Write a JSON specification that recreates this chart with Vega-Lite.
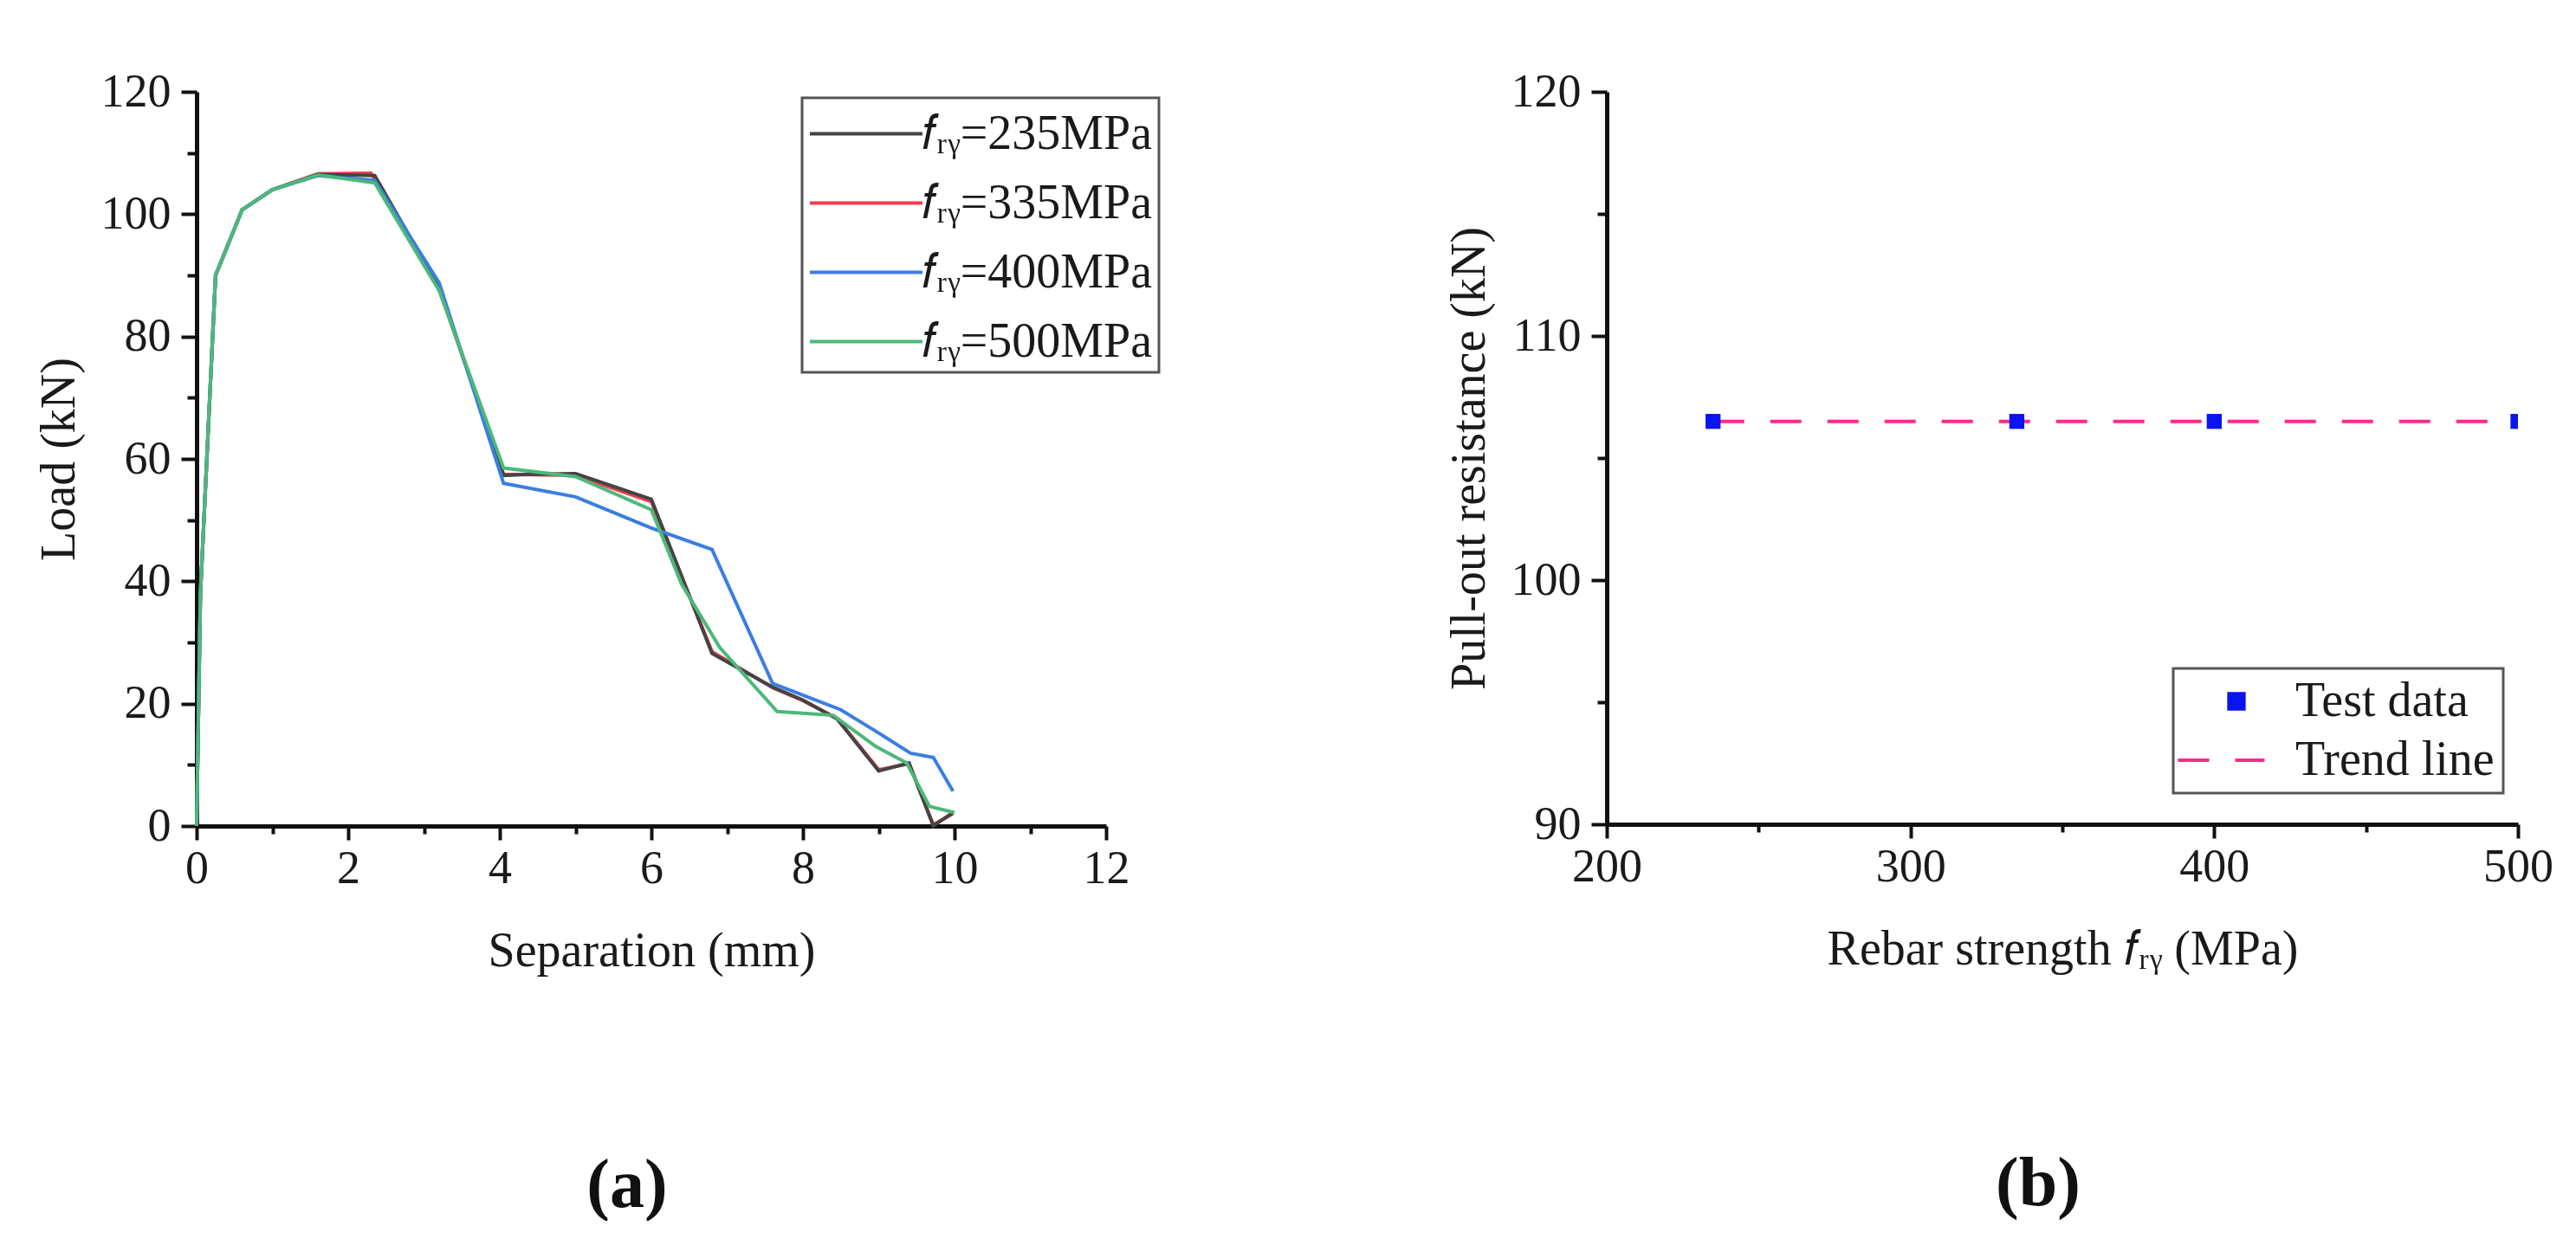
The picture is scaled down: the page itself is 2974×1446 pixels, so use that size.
{
  "$schema": "https://vega.github.io/schema/vega-lite/v6.json",
  "background": "white",
  "padding": {"left": 40, "top": 79, "right": 0, "bottom": 0},
  "resolve": {
    "scale": {"color": "independent", "strokeDash": "independent", "shape": "independent", "size": "independent"},
    "legend": {"color": "independent", "strokeDash": "independent", "shape": "independent", "size": "independent"}
  },
  "config": {
    "view": {"stroke": null},
    "font": "Liberation Serif",
    "concat": {"spacing": 328},
    "axis": {
      "grid": false,
      "domainColor": "#111111",
      "domainWidth": 5,
      "tickColor": "#111111",
      "tickWidth": 4,
      "labelFont": "Liberation Serif",
      "labelFontSize": 54,
      "labelColor": "#1a1a1a",
      "labelOverlap": false,
      "labelFlush": false,
      "titleFont": "Liberation Serif",
      "titleFontSize": 56,
      "titleFontWeight": "normal",
      "titleColor": "#1a1a1a"
    },
    "axisX": {"labelPadding": 6, "titlePadding": 41},
    "axisY": {"labelPadding": 12, "titlePadding": 19},
    "legend": {
      "orient": "none",
      "strokeColor": "#555555",
      "strokeWidth": 3,
      "fillColor": "white",
      "labelFont": "Liberation Serif",
      "labelFontSize": 56,
      "labelColor": "#1a1a1a",
      "labelLimit": 0,
      "title": null
    },
    "title": {
      "font": "Liberation Serif",
      "fontSize": 80,
      "fontWeight": "bold",
      "color": "#111111",
      "orient": "bottom",
      "anchor": "middle",
      "frame": "group",
      "offset": 205,
      "dx": -28
    }
  },
  "hconcat": [
    {
      "title": "(a)",
      "width": 1050,
      "height": 848,
      "data": {
        "values": [
          {"fry": "335MPa", "sep": 0, "load": 0},
          {"fry": "335MPa", "sep": 0.05, "load": 38},
          {"fry": "335MPa", "sep": 0.25, "load": 90},
          {"fry": "335MPa", "sep": 0.6, "load": 100.7},
          {"fry": "335MPa", "sep": 1.0, "load": 104},
          {"fry": "335MPa", "sep": 1.6, "load": 106.6},
          {"fry": "335MPa", "sep": 2.3, "load": 106.7},
          {"fry": "335MPa", "sep": 3.2, "load": 87.8},
          {"fry": "335MPa", "sep": 4.05, "load": 57.5},
          {"fry": "335MPa", "sep": 5.0, "load": 57.3},
          {"fry": "335MPa", "sep": 6.0, "load": 53},
          {"fry": "335MPa", "sep": 6.8, "load": 28.5},
          {"fry": "335MPa", "sep": 7.6, "load": 22.6},
          {"fry": "335MPa", "sep": 8.0, "load": 20.5},
          {"fry": "335MPa", "sep": 8.45, "load": 17.6},
          {"fry": "335MPa", "sep": 9.0, "load": 9.2},
          {"fry": "335MPa", "sep": 9.4, "load": 10.2},
          {"fry": "335MPa", "sep": 9.72, "load": 0.2},
          {"fry": "335MPa", "sep": 9.98, "load": 2.0},

          {"fry": "235MPa", "sep": 0, "load": 0},
          {"fry": "235MPa", "sep": 0.05, "load": 38},
          {"fry": "235MPa", "sep": 0.25, "load": 90},
          {"fry": "235MPa", "sep": 0.6, "load": 100.7},
          {"fry": "235MPa", "sep": 1.0, "load": 104},
          {"fry": "235MPa", "sep": 1.6, "load": 106.5},
          {"fry": "235MPa", "sep": 2.35, "load": 106.3},
          {"fry": "235MPa", "sep": 3.2, "load": 88},
          {"fry": "235MPa", "sep": 4.05, "load": 57.3},
          {"fry": "235MPa", "sep": 4.4, "load": 57.5},
          {"fry": "235MPa", "sep": 5.0, "load": 57.6},
          {"fry": "235MPa", "sep": 6.0, "load": 53.4},
          {"fry": "235MPa", "sep": 6.8, "load": 28.2},
          {"fry": "235MPa", "sep": 7.6, "load": 22.7},
          {"fry": "235MPa", "sep": 8.0, "load": 20.6},
          {"fry": "235MPa", "sep": 8.45, "load": 17.5},
          {"fry": "235MPa", "sep": 9.0, "load": 9.0},
          {"fry": "235MPa", "sep": 9.4, "load": 10.3},
          {"fry": "235MPa", "sep": 9.72, "load": 0},
          {"fry": "235MPa", "sep": 9.98, "load": 2.2},

          {"fry": "400MPa", "sep": 0, "load": 0},
          {"fry": "400MPa", "sep": 0.05, "load": 38},
          {"fry": "400MPa", "sep": 0.25, "load": 90},
          {"fry": "400MPa", "sep": 0.6, "load": 100.7},
          {"fry": "400MPa", "sep": 1.0, "load": 104},
          {"fry": "400MPa", "sep": 1.6, "load": 106.3},
          {"fry": "400MPa", "sep": 2.35, "load": 105.5},
          {"fry": "400MPa", "sep": 3.2, "load": 88.8},
          {"fry": "400MPa", "sep": 4.05, "load": 56.0},
          {"fry": "400MPa", "sep": 5.0, "load": 53.8},
          {"fry": "400MPa", "sep": 6.0, "load": 48.7},
          {"fry": "400MPa", "sep": 6.8, "load": 45.2},
          {"fry": "400MPa", "sep": 7.6, "load": 23.3},
          {"fry": "400MPa", "sep": 8.5, "load": 19.0},
          {"fry": "400MPa", "sep": 9.0, "load": 15.2},
          {"fry": "400MPa", "sep": 9.42, "load": 11.9},
          {"fry": "400MPa", "sep": 9.72, "load": 11.2},
          {"fry": "400MPa", "sep": 9.98, "load": 5.7},

          {"fry": "500MPa", "sep": 0, "load": 0},
          {"fry": "500MPa", "sep": 0.05, "load": 38},
          {"fry": "500MPa", "sep": 0.25, "load": 90},
          {"fry": "500MPa", "sep": 0.6, "load": 100.7},
          {"fry": "500MPa", "sep": 1.0, "load": 104},
          {"fry": "500MPa", "sep": 1.6, "load": 106.4},
          {"fry": "500MPa", "sep": 2.35, "load": 105.1},
          {"fry": "500MPa", "sep": 3.2, "load": 87.5},
          {"fry": "500MPa", "sep": 4.05, "load": 58.5},
          {"fry": "500MPa", "sep": 5.0, "load": 57.1},
          {"fry": "500MPa", "sep": 6.0, "load": 51.7},
          {"fry": "500MPa", "sep": 6.4, "load": 39.5},
          {"fry": "500MPa", "sep": 6.9, "load": 29.2},
          {"fry": "500MPa", "sep": 7.66, "load": 18.7},
          {"fry": "500MPa", "sep": 8.4, "load": 18.1},
          {"fry": "500MPa", "sep": 8.96, "load": 13},
          {"fry": "500MPa", "sep": 9.37, "load": 10.3},
          {"fry": "500MPa", "sep": 9.67, "load": 3.2},
          {"fry": "500MPa", "sep": 10.0, "load": 2.2}
        ]
      },
      "mark": {"type": "line", "strokeWidth": 4, "clip": false},
      "encoding": {
        "x": {
          "field": "sep",
          "type": "quantitative",
          "title": "Separation (mm)",
          "scale": {"domain": [0, 12], "nice": false},
          "axis": {
            "values": [0, 1, 2, 3, 4, 5, 6, 7, 8, 9, 10, 11, 12],
            "labelExpr": "datum.value % 2 === 0 ? datum.label : ''",
            "tickSize": {"condition": {"test": "datum.value % 2 === 0", "value": 16}, "value": 9}
          }
        },
        "y": {
          "field": "load",
          "type": "quantitative",
          "title": "Load (kN)",
          "scale": {"domain": [0, 120], "nice": false},
          "axis": {
            "values": [0, 10, 20, 30, 40, 50, 60, 70, 80, 90, 100, 110, 120],
            "labelExpr": "datum.value % 20 === 0 ? datum.label : ''",
            "tickSize": {"condition": {"test": "datum.value % 20 === 0", "value": 18}, "value": 11}
          }
        },
        "color": {
          "field": "fry",
          "type": "nominal",
          "scale": {
            "domain": ["235MPa", "335MPa", "400MPa", "500MPa"],
            "range": ["#444444", "#f03c50", "#3a7ee0", "#4cb87a"]
          },
          "legend": {
            "legendX": 699,
            "legendY": 7,
            "padding": 7,
            "symbolType": "M-1,0H3",
            "symbolSize": 4225,
            "symbolStrokeWidth": 4,
            "labelOffset": 62,
            "rowPadding": 17,
            "labelExpr": "'𝑓ᵣᵧ=' + datum.label"
          }
        }
      }
    },
    {
      "title": "(b)",
      "width": 1052,
      "height": 846,
      "layer": [
        {
          "data": {
            "values": [
              {"series": "Trend line", "strength": 235, "resistance": 106.5},
              {"series": "Trend line", "strength": 500, "resistance": 106.5}
            ]
          },
          "mark": {"type": "line", "strokeWidth": 4},
          "encoding": {
            "x": {
              "field": "strength",
              "type": "quantitative",
              "title": "Rebar strength 𝑓ᵣᵧ (MPa)",
              "scale": {"domain": [200, 500], "nice": false, "zero": false},
              "axis": {
                "values": [200, 250, 300, 350, 400, 450, 500],
                "labelExpr": "datum.value % 100 === 0 ? datum.label : ''",
                "tickSize": {"condition": {"test": "datum.value % 100 === 0", "value": 16}, "value": 9}
              }
            },
            "y": {
              "field": "resistance",
              "type": "quantitative",
              "title": "Pull-out resistance (kN)",
              "scale": {"domain": [90, 120], "nice": false, "zero": false},
              "axis": {
                "values": [90, 95, 100, 105, 110, 115, 120],
                "labelExpr": "datum.value % 10 === 0 ? datum.label : ''",
                "tickSize": {"condition": {"test": "datum.value % 10 === 0", "value": 18}, "value": 11}
              }
            },
            "color": {
              "field": "series",
              "type": "nominal",
              "scale": {"domain": ["Test data", "Trend line"], "range": ["#0a14f0", "#ff2a8a"]},
              "legend": {
                "legendX": 654,
                "legendY": 666,
                "padding": 10,
                "symbolStrokeWidth": 4,
                "symbolOffset": 35,
                "labelOffset": 40,
                "rowPadding": 12
              }
            },
            "strokeDash": {
              "field": "series",
              "type": "nominal",
              "scale": {"domain": ["Test data", "Trend line"], "range": [[1, 0], [36, 30]]},
              "legend": {
                "legendX": 654,
                "legendY": 666
              }
            }
          }
        },
        {
          "data": {
            "values": [
              {"series": "Test data", "strength": 235, "resistance": 106.5},
              {"series": "Test data", "strength": 335, "resistance": 106.5},
              {"series": "Test data", "strength": 400, "resistance": 106.5},
              {"series": "Test data", "strength": 500, "resistance": 106.5}
            ]
          },
          "mark": {"type": "point", "filled": true, "opacity": 1, "clip": true},
          "encoding": {
            "x": {"field": "strength", "type": "quantitative"},
            "y": {"field": "resistance", "type": "quantitative"},
            "color": {"field": "series", "type": "nominal"},
            "shape": {
              "field": "series",
              "type": "nominal",
              "scale": {"domain": ["Test data", "Trend line"], "range": ["square", "M-2.7,0H1.3"]},
              "legend": {"legendX": 654, "legendY": 666}
            },
            "size": {
              "field": "series",
              "type": "nominal",
              "scale": {"domain": ["Test data", "Trend line"], "range": [300, 2500]},
              "legend": {"legendX": 654, "legendY": 666}
            }
          }
        }
      ]
    }
  ]
}
